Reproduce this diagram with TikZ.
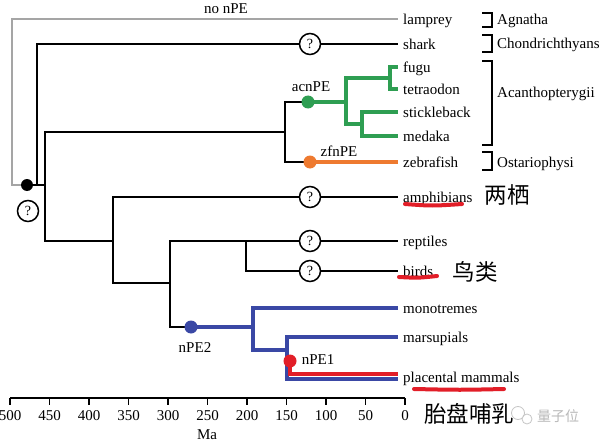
\documentclass[tikz,border=0pt]{standalone}
\usepackage{fontspec}
\setmainfont{Liberation Serif}
\newfontfamily\cjk{Noto Sans CJK SC}
\usepackage{xcolor}
\usepackage{tikz}
\usetikzlibrary{positioning,calc}

\definecolor{acngreen}{RGB}{46,158,82}
\definecolor{zfnorange}{RGB}{238,122,48}
\definecolor{npeblue}{RGB}{58,72,165}
\definecolor{npered}{RGB}{226,30,40}
\definecolor{nopegray}{RGB}{165,165,165}
\newcommand\lblfont{\fontsize{15}{18}\selectfont}
\newcommand\hanfont{\cjk\fontsize{22.5}{26}\selectfont}

\begin{document}
\begin{tikzpicture}[x=1pt,y=-1pt,
  leaf/.style={font=\lblfont,anchor=base west,inner sep=0pt,xshift=5pt,yshift=-5.5pt},
  cladelab/.style={font=\lblfont,anchor=base west,inner sep=0pt,yshift=-5.5pt},
  lab/.style={font=\lblfont,inner sep=0pt},
  br/.style={line width=2pt,black},
  nope/.style={line width=2pt,nopegray},
  acn/.style={line width=3.5pt,acngreen},
  zfn/.style={line width=3.5pt,zfnorange},
  npetwo/.style={line width=3.5pt,npeblue},
  npeone/.style={line width=3.5pt,npered},
  qm/.style={circle,draw,fill=white,line width=1.5pt,minimum size=21pt,inner sep=0pt,font=\fontsize{14}{16}\selectfont},
  clade/.style={line width=1.5pt},
  uline/.style={line width=4pt,npered,line cap=round},
  han/.style={font=\hanfont,inner sep=0pt}]
 \fill[white] (0,0) rectangle (600,444);
 \useasboundingbox (0,0) rectangle (600,444);
 % tips and leaf labels
 \foreach \name/\y/\txt in {lamprey/19/lamprey, shark/44/shark, fugu/67/fugu,
   tetraodon/89/tetraodon, stickleback/112/stickleback, medaka/136/medaka,
   zebrafish/162/zebrafish, amphibians/197/amphibians, reptiles/241/reptiles,
   birds/271/birds, monotremes/308/monotremes, marsupials/337/marsupials,
   placental/376.5/placental mammals}
  {\coordinate (t-\name) at (398,\y);
   \node[leaf] (\name) at (t-\name) {\txt};}
 \coordinate (t-placR) at (398,374);
 \coordinate (t-placB) at (398,379);
 % branch points
 \coordinate (root)   at (27,185);
 \coordinate (c-nope) at (12,19);
 \coordinate (n-chon) at (37,185);
 \coordinate (n-ost)  at (45,185);
 \coordinate (n-act)  at (285,132);
 \coordinate (d-acn)  at (308,102);
 \coordinate (n-acn)  at (346,102);
 \coordinate (n-ft)   at (390,78);
 \coordinate (n-sm)   at (362,124);
 \coordinate (d-zfn)  at (310,162);
 \coordinate (n-tet)  at (113,241);
 \coordinate (n-amn)  at (170,283);
 \coordinate (n-bird) at (246,241);
 \coordinate (d-npe2) at (191,327);
 \coordinate (n-mam)  at (253,327);
 \coordinate (n-ther) at (287,350);
 \coordinate (d-npe1) at (290,361);
 % tree
 \draw[nope] (root) -| (c-nope) -- (t-lamprey);
 \draw[br] (root) -- (n-ost);
 \draw[br] (n-chon) |- (t-shark);
 \draw[br] (n-ost) |- (n-act);
 \draw[br] (n-ost) |- (n-tet);
 \draw[br] (n-act) |- (d-acn);
 \draw[br] (n-act) |- (d-zfn);
 \draw[acn] (d-acn) -- (n-acn) |- (n-ft);
 \draw[acn] (n-acn) |- (n-sm);
 \draw[acn] (n-ft) |- (t-fugu);
 \draw[acn] (n-ft) |- (t-tetraodon);
 \draw[acn] (n-sm) |- (t-stickleback);
 \draw[acn] (n-sm) |- (t-medaka);
 \draw[zfn] (d-zfn) -- (t-zebrafish);
 \draw[br] (n-tet) |- (t-amphibians);
 \draw[br] (n-tet) |- (n-amn);
 \draw[br] (n-amn) |- (t-reptiles);
 \draw[br] (n-amn) |- (d-npe2);
 \draw[br] (n-bird) |- (t-birds);
 \draw[npetwo] (d-npe2) -- (n-mam) |- (t-monotremes);
 \draw[npetwo] (n-mam) |- (n-ther);
 \draw[npetwo] (n-ther) |- (t-marsupials);
 \draw[npetwo] (n-ther) |- (t-placB);
 \draw[npeone] (d-npe1) |- (t-placR);
 % gains
 \fill[black] (root) circle (6);
 \fill[acngreen] (d-acn) circle (6.5);
 \fill[zfnorange] (d-zfn) circle (6.5);
 \fill[npeblue] (d-npe2) circle (6.5);
 \fill[npered] (d-npe1) circle (6.5);
 \node[lab] (l-nope) at (226,9) {no nPE};
 \node[lab] (l-acn) at (311,87) {acnPE};
 \node[lab] (l-zfn) at (339,151) {zfnPE};
 \node[lab] (l-npe2) at (195,348) {nPE2};
 \node[lab] (l-npe1) at (318,360) {nPE1};
 % unknown
 \node[qm] (q-root) at (28,211) {?};
 \node[qm] (q-shark) at (310,44) {?};
 \node[qm] (q-amph) at (310,197) {?};
 \node[qm] (q-rept) at (310,241) {?};
 \node[qm] (q-bird) at (310,271) {?};
 % clades
 \foreach \top/\bot/\y/\name in {13/27/19/Agnatha, 35/52/43/Chondrichthyans,
   61/145/92/Acanthopterygii, 152/170/162/Ostariophysi}
  {\draw[clade] (482,\top) -| (492,\bot) -- (482,\bot);
   \node[cladelab] (cl-\name) at (497,\y) {\name};}
 % time axis
 \draw[clade] (10,398) -- (405,398);
 \foreach \m in {0,50,...,500}
  {\draw[clade] ({405-0.79*\m},398) -- ++(0,7);
   \node[lab] (tk\m) at ({405-0.79*\m},416) {\m};}
 \node[lab] (ma) at (207,435) {Ma};
 % highlights
 \draw[uline] (405,204) .. controls (432,206) .. (462,204);
 \draw[uline] (399,277) .. controls (418,278) .. (437,276);
 \draw[uline] (414,389) .. controls (460,390) .. (504,389);
 \node[han] (h-amph) at (507,195) {两栖};
 \node[han] (h-bird) at (475,272) {鸟类};
 \node[han] (h-plac) at (469,414) {胎盘哺乳};
 % watermark
 \draw[gray!45,line width=0.8pt] (518,413) circle (6.5) (527,419) circle (5);
 \node[font=\cjk\fontsize{14}{16}\selectfont,text=gray!55,inner sep=0pt] (wm) at (558,416) {量子位};
\end{tikzpicture}
\end{document}
